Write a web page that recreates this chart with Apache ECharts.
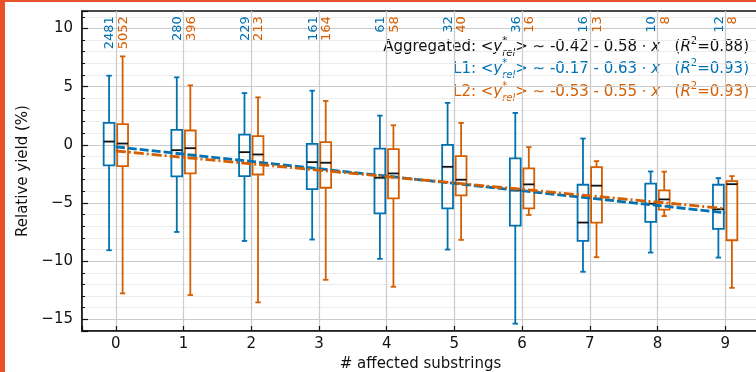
<!DOCTYPE html>
<html>
<head>
<meta charset="utf-8">
<script src="https://cdn.jsdelivr.net/npm/echarts@6/dist/echarts.min.js"></script>
<style>
  html, body { margin: 0; padding: 0; background: #fff; }
  #chart { width: 756px; height: 372px; }
  .frame {
    position: absolute; left: 0; top: 0; width: 756px; height: 372px;
    box-sizing: border-box; border-left: 5px solid #e8512a; border-top: 2px solid #e8512a;
    pointer-events: none;
  }
</style>
</head>
<body>
<div id="chart"></div>
<div class="frame"></div>
<script>
// ─── data ───────────────────────────────────────────────────────────────────
const substrings = [0, 1, 2, 3, 4, 5, 6, 7, 8, 9];

// box stats per group: [whisker low, q1, median, q3, whisker high]
const l1Stats = [
  [-9.06, -1.77, 0.28, 1.88, 5.94],
  [-7.49, -2.72, -0.46, 1.28, 5.80],
  [-8.26, -2.69, -0.63, 0.88, 4.45],
  [-8.14, -3.80, -1.49, 0.08, 4.65],
  [-9.80, -5.89, -2.83, -0.32, 2.51],
  [-9.00, -5.46, -1.89, 0.00, 3.60],
  [-15.37, -6.94, -3.92, -1.17, 2.74],
  [-10.91, -8.26, -6.68, -3.43, 0.54],
  [-9.26, -6.63, -5.06, -3.34, -2.29],
  [-9.69, -7.23, -5.54, -3.43, -2.86],
];
const l2Stats = [
  [-12.77, -1.83, 0.11, 1.77, 7.60],
  [-12.91, -2.46, -0.29, 1.23, 5.11],
  [-13.54, -2.55, -0.83, 0.74, 4.08],
  [-11.60, -3.69, -1.54, 0.23, 3.77],
  [-12.20, -4.60, -2.46, -0.37, 1.68],
  [-8.17, -4.34, -3.00, -0.97, 1.88],
  [-6.03, -5.46, -3.40, -2.03, -0.20],
  [-9.66, -6.68, -3.51, -1.92, -1.40],
  [-6.12, -5.57, -4.69, -3.92, -2.31],
  [-12.29, -8.20, -3.38, -3.12, -2.69],
];

// sample counts printed above each box
const l1Counts = [2481, 280, 229, 161, 61, 32, 36, 16, 10, 12];
const l2Counts = [5052, 396, 213, 164, 58, 40, 16, 13, 8, 8];

// linear fit end points
const fitX = [0, 9];
const l1Fit = [-0.17, -5.84];
const l2Fit = [-0.53, -5.48];

// ─── styling ────────────────────────────────────────────────────────────────
const BLUE = '#0072B2';
const ORANGE = '#D55E00';
const FONT = 'DejaVu Sans';
const BOX_OFFSET = 0.1;   // box centre shift from the integer tick
const BOX_HALF = 0.08;    // half box width, axis units
const COUNT_Y = 11.05;    // where the rotated counts end

function boxRenderer(offset, color) {
  return function (params, api) {
    const x = api.value(0) + offset;
    const pMin = api.coord([x, api.value(1)]);
    const pQ1 = api.coord([x, api.value(2)]);
    const pMed = api.coord([x, api.value(3)]);
    const pQ3 = api.coord([x, api.value(4)]);
    const pMax = api.coord([x, api.value(5)]);
    const half = api.size([BOX_HALF, 0])[0];
    const cap = half / 2;
    const cx = pMed[0];
    const seg = (x1, y1, x2, y2, stroke) => ({
      type: 'line', shape: { x1, y1, x2, y2 }, style: { stroke, lineWidth: 1.8 },
    });
    return {
      type: 'group',
      children: [
        seg(cx, pQ3[1], cx, pMax[1], color),
        seg(cx, pQ1[1], cx, pMin[1], color),
        seg(cx - cap, pMax[1], cx + cap, pMax[1], color),
        seg(cx - cap, pMin[1], cx + cap, pMin[1], color),
        {
          type: 'rect',
          shape: { x: cx - half, y: pQ3[1], width: 2 * half, height: pQ1[1] - pQ3[1] },
          style: { fill: 'none', stroke: color, lineWidth: 1.8 },
        },
        seg(cx - half, pMed[1], cx + half, pMed[1], '#111'),
      ],
    };
  };
}

function countRenderer(offset, color) {
  return function (params, api) {
    const p = api.coord([api.value(0) + offset, COUNT_Y]);
    return {
      type: 'text',
      x: p[0] + 1,
      y: p[1],
      rotation: Math.PI / 2,
      style: {
        text: String(api.value(1)),
        fill: color,
        font: '13px ' + FONT,
        align: 'right',
        verticalAlign: 'middle',
      },
    };
  };
}

const minus = (v) => String(v).replace('-', '\u2212');

const rich = {
  i: { fontStyle: 'italic', fontSize: 15, fontFamily: FONT, lineHeight: 22 },
  s: { fontSize: 10, fontFamily: FONT, verticalAlign: 'top', lineHeight: 10, width: 0 },
  b: { fontSize: 10, fontFamily: FONT, fontStyle: 'italic', verticalAlign: 'bottom', lineHeight: 10 },
  t: { fontSize: 10, fontFamily: FONT, verticalAlign: 'top', lineHeight: 10 },
};

function fitLabel(prefix, a, b, r2) {
  return prefix + ' <{i|y}{s|*}{b|rel}> \u223C ' + a + ' - ' + b + ' \u22C5 {i|x}   ({i|R}{t|2}=' + r2 + ')';
}

const chart = echarts.init(document.getElementById('chart'));

chart.setOption({
  animation: false,
  backgroundColor: '#fff',
  textStyle: { fontFamily: FONT },
  grid: {
    left: 82, right: -3, top: 11, bottom: 41,
    outerBoundsMode: 'none',
    containLabel: false,
    show: true, borderColor: '#111', borderWidth: 1.5, backgroundColor: 'transparent',
  },
  xAxis: {
    type: 'value',
    min: -0.5, max: 9.5,
    minInterval: 1, maxInterval: 1,
    name: '# affected substrings',
    nameLocation: 'middle',
    nameGap: 24,
    nameTextStyle: { fontSize: 15, color: '#111', fontFamily: FONT },
    axisLine: { show: true, onZero: false, lineStyle: { color: '#111', width: 1.5 } },
    axisTick: { show: true, inside: true, length: 5, lineStyle: { color: '#111', width: 1.2 } },
    axisLabel: {
      fontSize: 15, color: '#111', margin: 6, fontFamily: FONT,
      formatter: (v) => (Number.isInteger(v) ? String(v) : ''),
    },
    splitLine: { show: true, lineStyle: { color: '#cbcbcb', width: 1.2 } },
  },
  yAxis: [
    {
      type: 'value',
      position: 'left',
      min: -16, max: 11.5, interval: 1,
      axisLine: { show: false, onZero: false },
      axisTick: { show: true, inside: true, length: 3, lineStyle: { color: '#111', width: 1 } },
      axisLabel: { show: false },
      splitLine: { show: true, showMaxLine: false, lineStyle: { color: '#ececec', width: 1 } },
    },
    {
      type: 'value',
      position: 'left',
      min: -16, max: 11.5,
      minInterval: 5, maxInterval: 5,
      name: 'Relative yield (%)',
      nameLocation: 'middle',
      nameGap: 41,
      nameTextStyle: { fontSize: 15, color: '#111', fontFamily: FONT },
      axisLine: { show: true, onZero: false, lineStyle: { color: '#111', width: 1.5 } },
      axisTick: { show: true, inside: true, length: 6, lineStyle: { color: '#111', width: 1.2 } },
      axisLabel: {
        fontSize: 15, color: '#111', margin: 9, fontFamily: FONT,
        formatter: (v) => (v % 5 === 0 ? minus(v) : ''),
      },
      splitLine: { show: true, showMinLine: false, showMaxLine: false, lineStyle: { color: '#cbcbcb', width: 1.2 } },
    },
  ],
  graphic: [
    {
      type: 'text', right: 7, top: 36,
      style: { text: fitLabel('Aggregated:', '-0.42', '0.58', '0.88'), rich, fill: '#111', font: '15px ' + FONT, lineHeight: 22 },
    },
    {
      type: 'text', right: 7, top: 58,
      style: { text: fitLabel('L1:', '-0.17', '0.63', '0.93'), rich, fill: BLUE, font: '15px ' + FONT, lineHeight: 22 },
    },
    {
      type: 'text', right: 7, top: 81,
      style: { text: fitLabel('L2:', '-0.53', '0.55', '0.93'), rich, fill: ORANGE, font: '15px ' + FONT, lineHeight: 22 },
    },
  ],
  series: [
    {
      type: 'custom', name: 'L1', z: 2,
      renderItem: boxRenderer(-BOX_OFFSET, BLUE),
      encode: { x: 0, y: [1, 2, 3, 4, 5] },
      data: substrings.map((x, i) => [x, ...l1Stats[i]]),
    },
    {
      type: 'custom', name: 'L2', z: 2,
      renderItem: boxRenderer(BOX_OFFSET, ORANGE),
      encode: { x: 0, y: [1, 2, 3, 4, 5] },
      data: substrings.map((x, i) => [x, ...l2Stats[i]]),
    },
    {
      type: 'custom', z: 2,
      renderItem: countRenderer(-BOX_OFFSET, BLUE),
      encode: { x: 0 },
      data: substrings.map((x, i) => [x, l1Counts[i]]),
    },
    {
      type: 'custom', z: 2,
      renderItem: countRenderer(BOX_OFFSET, ORANGE),
      encode: { x: 0 },
      data: substrings.map((x, i) => [x, l2Counts[i]]),
    },
    {
      type: 'line', z: 3, symbol: 'none',
      data: fitX.map((x, i) => [x, l1Fit[i]]),
      lineStyle: { color: BLUE, width: 2.8, type: [9, 3] },
    },
    {
      type: 'line', z: 4, symbol: 'none',
      data: fitX.map((x, i) => [x, l2Fit[i]]),
      lineStyle: { color: ORANGE, width: 2.8, type: [10, 3, 2, 3] },
    },
  ],
});
</script>
</body>
</html>
